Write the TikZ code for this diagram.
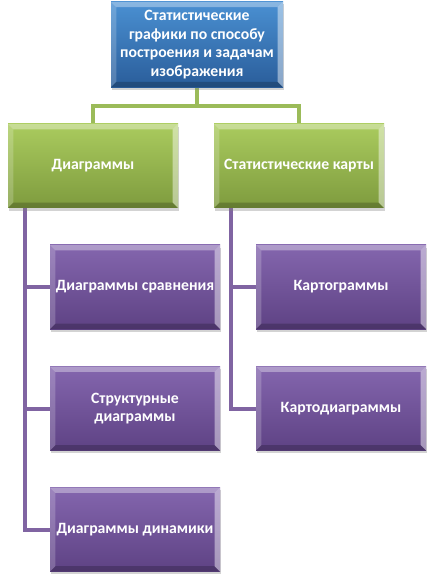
\documentclass[tikz,border=0pt]{standalone}
\usepackage{fontspec}
\setmainfont{Carlito}
\usetikzlibrary{calc,shadows,backgrounds}
\definecolor{bluetop}{HTML}{4A90D2}
\definecolor{bluebot}{HTML}{2A5D9A}
\definecolor{greentop}{HTML}{AACB5E}
\definecolor{greenbot}{HTML}{7E9B3E}
\definecolor{purptop}{HTML}{8466AE}
\definecolor{purpbot}{HTML}{5E4284}
\definecolor{gline}{HTML}{9BBB59}
\definecolor{pline}{HTML}{8064A2}
\tikzset{
  bevel/.style={path picture={
    \coordinate (nw) at (path picture bounding box.north west);
    \coordinate (ne) at (path picture bounding box.north east);
    \coordinate (sw) at (path picture bounding box.south west);
    \coordinate (se) at (path picture bounding box.south east);
    \fill[white,opacity=0.35] (nw) -- (ne) -- ($(ne)+(-4pt,-4pt)$) -- ($(nw)+(4pt,-4pt)$) -- cycle;
    \fill[white,opacity=0.2] (nw) -- (sw) -- ($(sw)+(4pt,4pt)$) -- ($(nw)+(4pt,-4pt)$) -- cycle;
    \fill[black,opacity=0.2] (sw) -- (se) -- ($(se)+(-4pt,4pt)$) -- ($(sw)+(4pt,4pt)$) -- cycle;
    \fill[white,opacity=0.45] (ne) -- (se) -- ($(se)+(-4pt,4pt)$) -- ($(ne)+(-4pt,-4pt)$) -- cycle;
  }},
  box/.style={bevel, text=white, font=\bfseries\fontsize{11.8}{13.8}\selectfont, align=center,
    minimum width=127.5pt, minimum height=63pt, inner sep=1pt,
    drop shadow={shadow xshift=1pt, shadow yshift=-2pt, opacity=0.35}},
  bluebox/.style={box, top color=bluetop, bottom color=bluebot, minimum width=129pt, minimum height=64pt},
  greenbox/.style={box, top color=greentop, bottom color=greenbot},
  purpbox/.style={box, top color=purptop, bottom color=purpbot},
  gconn/.style={draw=gline, line width=3pt},
  pconn/.style={draw=pline, line width=3pt},
}
\begin{document}
\begin{tikzpicture}[x=0.75pt,y=-0.75pt]
\useasboundingbox (0,0) rectangle (436,580);
\node[bluebox] (top) at (197,44.5) {Статистические\\графики по способу\\построения и задачам\\изображения};
\node[greenbox] (diag) at (93,166) {Диаграммы};
\node[greenbox] (maps) at (299,166) {Статистические карты};
\node[purpbox] (cmp) at (135,287) {Диаграммы сравнения};
\node[purpbox] (kart) at (341,287) {Картограммы};
\node[purpbox] (str) at (135,408.5) {Структурные\\диаграммы};
\node[purpbox] (kdiag) at (341,408.5) {Картодиаграммы};
\node[purpbox] (dyn) at (135,529.5) {Диаграммы динамики};
\coordinate (gbus) at (197,106);
\coordinate (lbus) at (25,200);
\coordinate (rbus) at (231,200);
\begin{scope}[on background layer]
\draw[gconn] (top.south) -- (gbus) -| (diag.north);
\draw[gconn] (gbus) -| (maps.north);
\draw[pconn] (lbus) |- (cmp.west);
\draw[pconn] (lbus) |- (str.west);
\draw[pconn] (lbus) |- (dyn.west);
\draw[pconn] (rbus) |- (kart.west);
\draw[pconn] (rbus) |- (kdiag.west);
\end{scope}
\end{tikzpicture}
\end{document}
